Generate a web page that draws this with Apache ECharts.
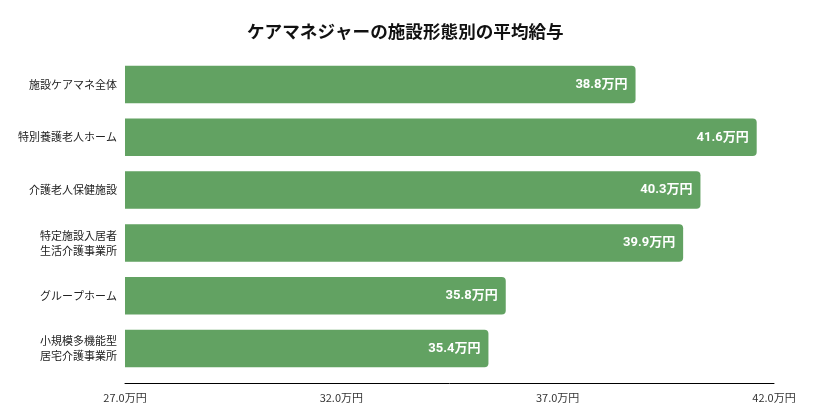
<!DOCTYPE html>
<html style="height: 100%">
<head>
    <meta charset="utf-8" />
    <title>ケアマネジャーの施設形態別の平均給与</title>
    <script type="text/javascript" src="https://cdn.jsdelivr.net/npm/echarts@6/dist/echarts.min.js"></script>
</head>
<body style="height: 100%; margin: 0; background: #fff">
    <div id="container" style="width: 813px; height: 410px"></div>
</body>
</html>
<script type="text/javascript">
    // 施設形態（上から順）
    var categories = [
        '施設ケアマネ全体',
        '特別養護老人ホーム',
        '介護老人保健施設',
        '特定施設入居者\n生活介護事業所',
        'グループホーム',
        '小規模多機能型\n居宅介護事業所'
    ];
    // 平均給与（万円）
    var salaries = [38.8, 41.6, 40.3, 39.9, 35.8, 35.4];
    var axisTicks = [27, 32, 37, 42];

    var font = '"Noto Sans CJK JP", "Noto Sans", sans-serif';

    var myChart = echarts.init(document.getElementById('container'));
    var option = {
        animation: false,
        title: {
            text: 'ケアマネジャーの施設形態別の平均給与',
            left: 242,
            top: 18,
            textStyle: { fontFamily: font, fontSize: 17.6, fontWeight: 'bold', color: '#111' }
        },
        grid: { left: 125, right: 39, top: 58, bottom: 35, containLabel: false },
        xAxis: {
            type: 'value',
            min: axisTicks[0],
            max: axisTicks[axisTicks.length - 1],
            interval: 5,
            offset: 8,
            splitLine: { show: false },
            axisTick: { show: false },
            axisLine: { show: true, lineStyle: { color: '#000', width: 1 } },
            axisLabel: {
                fontFamily: font, fontSize: 11, color: '#333', margin: 9,
                formatter: function (v) { return v.toFixed(1) + '万円'; }
            }
        },
        yAxis: {
            type: 'category',
            inverse: true,
            data: categories,
            axisLine: { show: false },
            axisTick: { show: false },
            axisLabel: { fontFamily: font, fontSize: 11, color: '#222', margin: 8, lineHeight: 15 }
        },
        series: [{
            type: 'bar',
            data: salaries,
            barCategoryGap: '29%',
            itemStyle: { color: '#62a262', borderRadius: [0, 4, 4, 0] },
            label: {
                show: true,
                position: 'insideRight',
                distance: 8,
                color: '#fff',
                fontFamily: 'Roboto, ' + font,
                fontSize: 13,
                fontWeight: 'bold',
                formatter: function (p) { return p.value.toFixed(1) + '万円'; }
            }
        }]
    };
    myChart.setOption(option);
</script>
